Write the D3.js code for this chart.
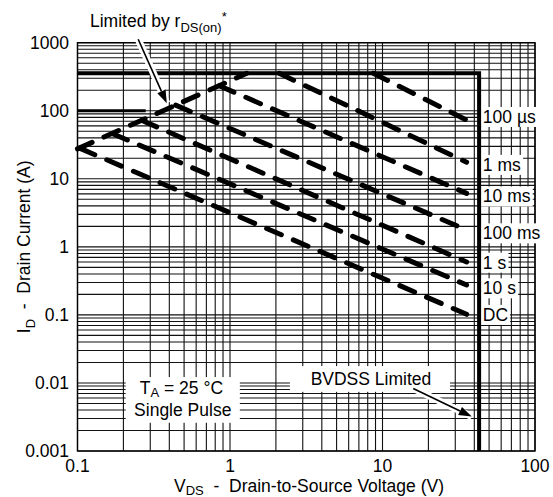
<!DOCTYPE html>
<html><head><meta charset="utf-8">
<script src="https://cdn.jsdelivr.net/npm/d3@7"></script>
<style>
body{margin:0;background:#fff;}
svg text{font-family:Arial,"Liberation Sans",sans-serif;font-size:17.5px;fill:#000;white-space:pre;}
</style></head><body>
<div id="chart"></div>
<script>
// axis ticks
var xTicks = [0.1, 1, 10, 100];
var yTicks = [0.001, 0.01, 0.1, 1, 10, 100, 1000];
// pulse lines, V (volts) and I (amps)
var pulseNames  = ["100 µs", "1 ms", "10 ms", "100 ms", "1 s", "10 s", "DC"];
var pulseStartV = [8.7, 2.1, 0.85, 0.44, 0.265, 0.17, 0.104];
var pulseStartI = [355, 355, 233, 121, 72, 46, 28];
var pulseEndV   = [37.5, 35.6, 35.6, 35.6, 35.6, 35.6, 35.6];
var pulseEndI   = [69, 17.5, 6.1, 1.77, 0.6, 0.275, 0.102];
var pulseLabelI = [81, 16, 5.5, 1.58, 0.585, 0.246, 0.1];
// rds(on) limit
var rdsV = [0.1, 1.29];
var rdsI = [27.5, 355];
// solid limits
var topLimitI = 355;
var lowLimitV = [0.1, 0.28];
var lowLimitI = 100;
var bvdssV = 43;

var W = 553, H = 497;
var x = d3.scaleLog().domain([0.1, 100]).range([77.5, 535]);
var y = d3.scaleLog().domain([0.001, 1000]).range([451, 42.7]);

var svg = d3.select("#chart").append("svg")
    .attr("width", W).attr("height", H);

// grid
var gx = [], gy = [];
[0.1, 1, 10].forEach(function(d){ for (var k = 1; k < 10; k++) gx.push(d*k); });
gx.push(100);
[0.001, 0.01, 0.1, 1, 10, 100].forEach(function(d){ for (var k = 1; k < 10; k++) gy.push(d*k); });
gy.push(1000);

var grid = svg.append("g").attr("stroke", "#111").attr("stroke-width", 1.1);
grid.selectAll("line.v").data(gx).enter().append("line")
    .attr("x1", function(d){ return x(d); }).attr("x2", function(d){ return x(d); })
    .attr("y1", y(1000)).attr("y2", y(0.001));
grid.selectAll("line.h").data(gy).enter().append("line")
    .attr("y1", function(d){ return y(d); }).attr("y2", function(d){ return y(d); })
    .attr("x1", x(0.1)).attr("x2", x(100));

svg.append("rect")
    .attr("x", x(0.1)).attr("y", y(1000))
    .attr("width", x(100) - x(0.1)).attr("height", y(0.001) - y(1000))
    .attr("fill", "none").attr("stroke", "#000").attr("stroke-width", 1.4);

// white boxes for annotations inside the plot
function whiteBox(v1, i1, v2, i2){
    svg.append("rect")
        .attr("x", x(v1)).attr("y", y(i1))
        .attr("width", x(v2) - x(v1)).attr("height", y(i2) - y(i1))
        .attr("fill", "#fff");
}
whiteBox(0.207, 0.0122, 1.16, 0.0026);
whiteBox(2.47, 0.0177, 27.7, 0.0074);

// pulse labels with white background
var lab = svg.append("g");
pulseNames.forEach(function(n, i){
    var ty = y(pulseLabelI[i]) + 6;
    var t = lab.append("text").attr("x", x(45.5)).attr("y", ty).text(n);
    var b = t.node().getBBox();
    lab.insert("rect", "text")
        .attr("x", b.x - 3).attr("y", b.y)
        .attr("width", b.width + 5).attr("height", b.height)
        .attr("fill", "#fff");
});

// solid limit lines
svg.append("path")
    .attr("d", "M" + x(0.1) + "," + y(topLimitI) + "H" + x(bvdssV) + "V" + y(0.001))
    .attr("fill", "none").attr("stroke", "#000").attr("stroke-width", 4);
svg.append("line")
    .attr("x1", x(lowLimitV[0])).attr("x2", x(lowLimitV[1]))
    .attr("y1", y(lowLimitI)).attr("y2", y(lowLimitI))
    .attr("stroke", "#000").attr("stroke-width", 3);

// dashed lines
var line = d3.line().x(function(d){ return x(d[0]); }).y(function(d){ return y(d[1]); });
var dashed = [[[rdsV[0], rdsI[0]], [rdsV[1], rdsI[1]]]];
pulseNames.forEach(function(n, i){
    dashed.push([[pulseStartV[i], pulseStartI[i]], [pulseEndV[i], pulseEndI[i]]]);
});
svg.selectAll("path.dash").data(dashed).enter().append("path")
    .attr("class", "dash")
    .attr("d", line)
    .attr("fill", "none").attr("stroke", "#000")
    .attr("stroke-width", 5).attr("stroke-linecap", "round")
    .attr("stroke-dasharray", "16,13");

// arrows
function arrow(v1, i1, v2, i2){
    var x1 = x(v1), y1 = y(i1), x2 = x(v2), y2 = y(i2);
    var a = Math.atan2(y2 - y1, x2 - x1), L = 13, w = 4.5;
    var bx = x2 - L*Math.cos(a), by = y2 - L*Math.sin(a);
    svg.append("line").attr("x1", x1).attr("y1", y1).attr("x2", x2).attr("y2", y2)
        .attr("stroke", "#fff").attr("stroke-width", 7);
    svg.append("line").attr("x1", x1).attr("y1", y1).attr("x2", bx).attr("y2", by)
        .attr("stroke", "#000").attr("stroke-width", 1.6);
    svg.append("path")
        .attr("d", "M" + x2 + "," + y2 +
            "L" + (bx + w*Math.sin(a)) + "," + (by - w*Math.cos(a)) +
            "L" + (bx - w*Math.sin(a)) + "," + (by + w*Math.cos(a)) + "Z")
        .attr("fill", "#000");
}
arrow(0.25, 1122, 0.385, 129);
arrow(15.9, 0.0083, 38.5, 0.0032);

// tick labels
svg.selectAll("text.xt").data(xTicks).enter().append("text")
    .attr("x", function(d){ return x(d); }).attr("y", 472)
    .attr("text-anchor", "middle").text(function(d){ return d; });
svg.selectAll("text.yt").data(yTicks).enter().append("text")
    .attr("x", 69).attr("y", function(d){ return y(d) + 6; })
    .attr("text-anchor", "end").text(function(d){ return d; });

// axis titles
var xt = svg.append("text").attr("x", 309).attr("y", 492).attr("text-anchor", "middle");
xt.append("tspan").text("V");
xt.append("tspan").attr("dy", 3).style("font-size", "13px").text("DS");
xt.append("tspan").attr("dy", -3).text("  -  Drain-to-Source Voltage (V)");

var yt = svg.append("text").attr("transform", "translate(30," + ((y(1000) + y(0.001))/2) + ")rotate(-90)")
    .attr("text-anchor", "middle");
yt.append("tspan").text("I");
yt.append("tspan").attr("dy", 5).style("font-size", "13px").text("D");
yt.append("tspan").attr("dy", -5).text("  -  Drain Current (A)");

// annotations
var lt = svg.append("text").attr("x", 90).attr("y", 27);
lt.append("tspan").text("Limited by r");
lt.append("tspan").attr("dy", 5).style("font-size", "13px").text("DS(on)");
lt.append("tspan").attr("dy", -11).style("font-size", "13px").text("*");

var ta = svg.append("text").attr("x", x(0.48)).attr("y", 394).attr("text-anchor", "middle");
ta.append("tspan").text("T");
ta.append("tspan").attr("dy", 3).style("font-size", "13px").text("A");
ta.append("tspan").attr("dy", -3).text(" = 25 °C");
svg.append("text").attr("x", x(0.49)).attr("y", 416).attr("text-anchor", "middle").text("Single Pulse");
svg.append("text").attr("x", x(8.4)).attr("y", 385).attr("text-anchor", "middle").text("BVDSS Limited");
</script>
</body></html>
